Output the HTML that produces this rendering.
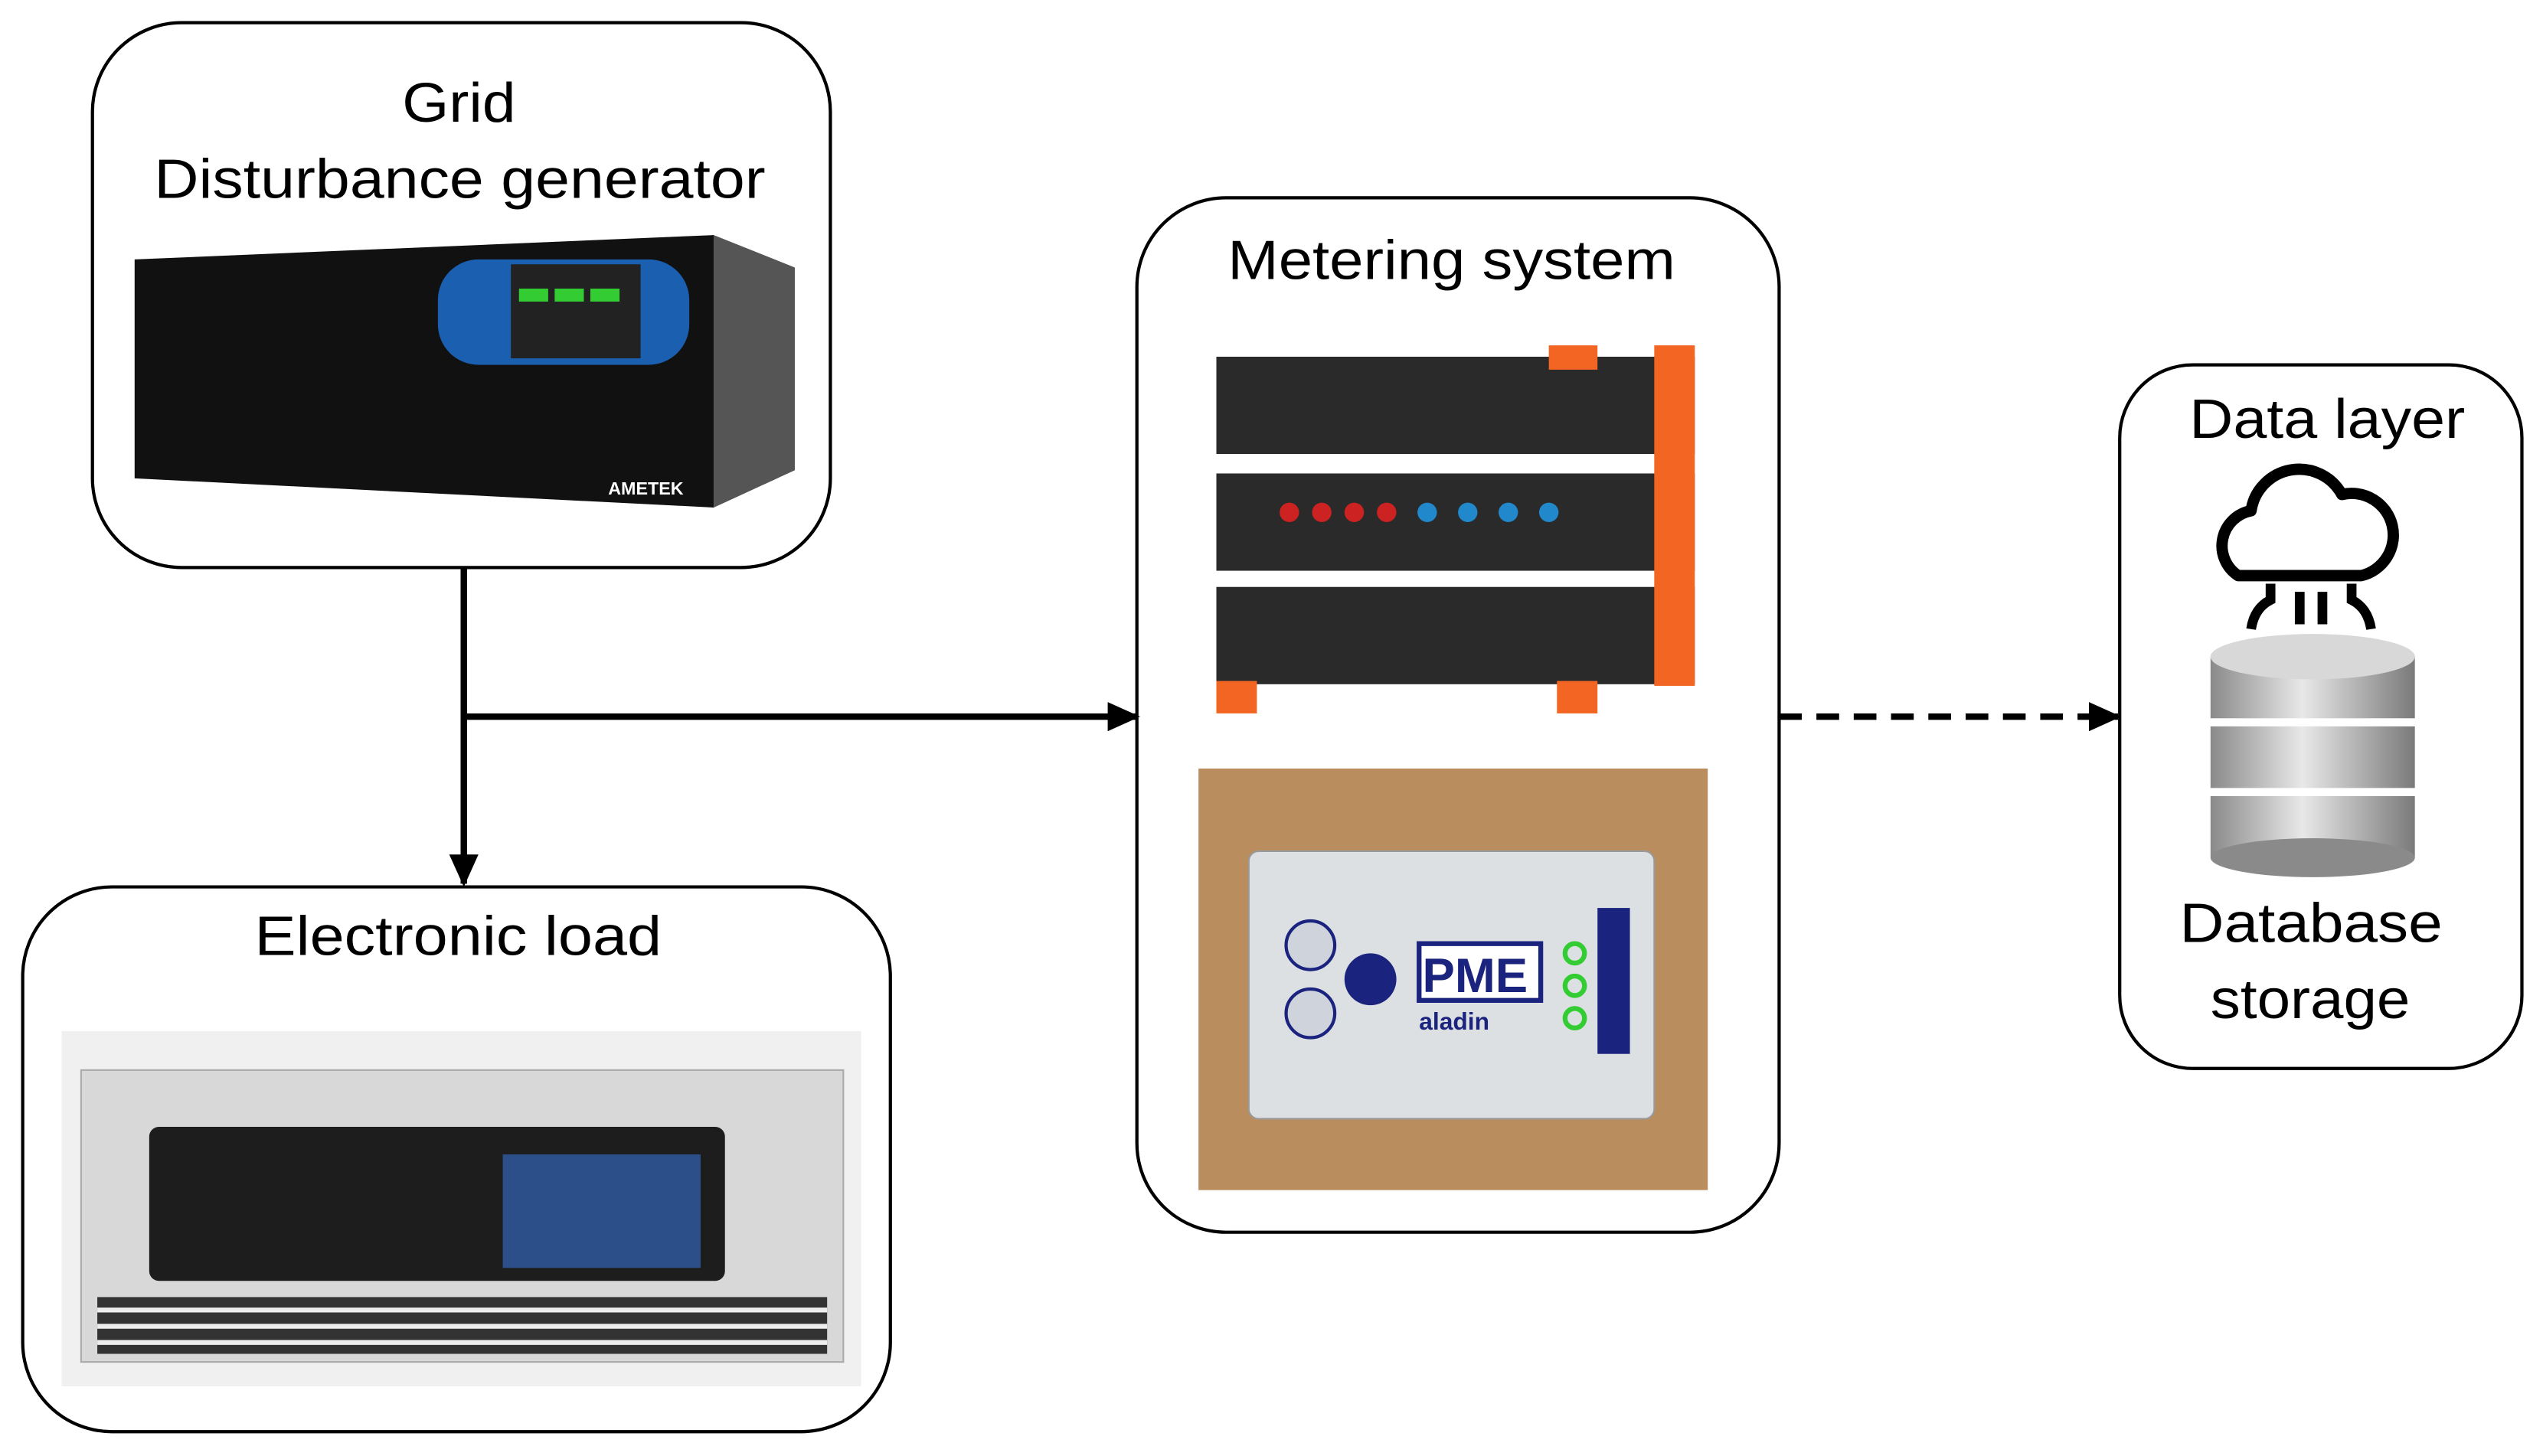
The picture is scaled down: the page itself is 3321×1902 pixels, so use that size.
<!DOCTYPE html>
<html><head><meta charset="utf-8"><style>
html,body{margin:0;padding:0;background:#fff;}
svg{display:block;}
text{font-family:"Liberation Sans",sans-serif;fill:#000;}
</style></head><body>
<svg width="3321" height="1902" viewBox="0 0 1568 898" xmlns="http://www.w3.org/2000/svg">
<defs>
<marker id="ah" markerWidth="20" markerHeight="18" refX="18" refY="9" orient="auto" markerUnits="userSpaceOnUse"><path d="M0,0 L20,9 L0,18 z" fill="#000"/></marker>
<linearGradient id="cyl" x1="0" x2="1"><stop offset="0" stop-color="#8a8a8a"/><stop offset="0.45" stop-color="#e8e8e8"/><stop offset="1" stop-color="#7a7a7a"/></linearGradient>
</defs>
<!-- boxes -->
<rect x="57" y="14" width="455" height="336" rx="55" fill="#fff" stroke="#000" stroke-width="2"/>
<rect x="14" y="547" width="535" height="336" rx="55" fill="#fff" stroke="#000" stroke-width="2"/>
<rect x="701" y="122" width="396" height="638" rx="55" fill="#fff" stroke="#000" stroke-width="2"/>
<rect x="1307" y="225" width="248" height="434" rx="45" fill="#fff" stroke="#000" stroke-width="2"/>
<!-- labels -->
<text x="248" y="75" font-size="34" textLength="70" lengthAdjust="spacingAndGlyphs">Grid</text>
<text x="95" y="122" font-size="34" textLength="377" lengthAdjust="spacingAndGlyphs">Disturbance generator</text>
<text x="157" y="589" font-size="34" textLength="251" lengthAdjust="spacingAndGlyphs">Electronic load</text>
<text x="757" y="172" font-size="34" textLength="276" lengthAdjust="spacingAndGlyphs">Metering system</text>
<text x="1350" y="270" font-size="34" textLength="170" lengthAdjust="spacingAndGlyphs">Data layer</text>
<text x="1344" y="581" font-size="34" textLength="162" lengthAdjust="spacingAndGlyphs">Database</text>
<text x="1363" y="628" font-size="34" textLength="123" lengthAdjust="spacingAndGlyphs">storage</text>
<!-- connectors -->
<line x1="286" y1="350" x2="286" y2="545" stroke="#000" stroke-width="4" marker-end="url(#ah)"/>
<line x1="286" y1="442" x2="701" y2="442" stroke="#000" stroke-width="4" marker-end="url(#ah)"/>
<line x1="1097" y1="442" x2="1306" y2="442" stroke="#000" stroke-width="4" stroke-dasharray="14,9" marker-end="url(#ah)"/>
<!-- grid generator device -->
<polygon points="83,160 440,145 490,165 490,290 440,313 83,295" fill="#111"/>
<polygon points="440,145 490,165 490,290 440,313" fill="#555"/>
<rect x="270" y="160" width="155" height="65" rx="25" fill="#1a5fb0"/>
<rect x="315" y="163" width="80" height="58" fill="#222"/>
<rect x="320" y="178" width="18" height="8" fill="#3c3"/><rect x="342" y="178" width="18" height="8" fill="#3c3"/><rect x="364" y="178" width="18" height="8" fill="#3c3"/>
<text x="375" y="305" font-size="11" style="fill:#fff" font-weight="bold">AMETEK</text>
<!-- electronic load device -->
<rect x="38" y="636" width="493" height="219" fill="#f0f0f0"/>
<rect x="50" y="660" width="470" height="180" fill="#d8d8d8" stroke="#aaa"/>
<rect x="92" y="695" width="355" height="95" rx="6" fill="#1d1d1d"/>
<rect x="310" y="712" width="122" height="70" fill="#2c4f8a"/>
<rect x="60" y="800" width="450" height="35" fill="#333"/>
<g stroke="#eee" stroke-width="3"><line x1="60" y1="808" x2="510" y2="808"/><line x1="60" y1="818" x2="510" y2="818"/><line x1="60" y1="828" x2="510" y2="828"/></g>
<!-- metering device 1 -->
<rect x="750" y="220" width="295" height="60" fill="#2a2a2a"/>
<rect x="750" y="292" width="295" height="60" fill="#2a2a2a"/>
<rect x="750" y="362" width="295" height="60" fill="#2a2a2a"/>
<g fill="#f26522"><rect x="955" y="213" width="30" height="15"/><rect x="1020" y="213" width="25" height="210"/><rect x="750" y="420" width="25" height="20"/><rect x="960" y="420" width="25" height="20"/></g>
<g fill="#c22"><circle cx="855" cy="316" r="6"/><circle cx="835" cy="316" r="6"/><circle cx="815" cy="316" r="6"/><circle cx="795" cy="316" r="6"/></g>
<g fill="#28c"><circle cx="880" cy="316" r="6"/><circle cx="905" cy="316" r="6"/><circle cx="930" cy="316" r="6"/><circle cx="955" cy="316" r="6"/></g>
<!-- metering device 2 -->
<rect x="739" y="474" width="314" height="260" fill="#b98d5e"/>
<rect x="770" y="525" width="250" height="165" rx="6" fill="#dde0e3" stroke="#999"/>
<rect x="985" y="560" width="20" height="90" fill="#1a237e"/>
<rect x="875" y="582" width="75" height="35" fill="#fff" stroke="#1a237e" stroke-width="3"/>
<text x="877" y="612" font-size="30" font-weight="bold" style="fill:#1a237e">PME</text>
<text x="875" y="635" font-size="15" font-weight="bold" style="fill:#1a237e">aladin</text>
<circle cx="845" cy="604" r="16" fill="#1a237e"/>
<circle cx="808" cy="583" r="15" fill="#cfd4dc" stroke="#1a237e" stroke-width="2"/>
<circle cx="808" cy="625" r="15" fill="#cfd4dc" stroke="#1a237e" stroke-width="2"/>
<g fill="none" stroke="#3c3" stroke-width="3"><circle cx="971" cy="588" r="6"/><circle cx="971" cy="608" r="6"/><circle cx="971" cy="628" r="6"/></g>
<!-- cloud + database -->
<path d="M1380,355 a22,22 0 0 1 8,-40 a30,30 0 0 1 56,-10 a22,22 0 0 1 12,50 z" fill="none" stroke="#000" stroke-width="7" stroke-linejoin="round"/>
<g stroke="#000" stroke-width="6" fill="none"><path d="M1400,360 v10 q-10,5 -12,18"/><path d="M1450,360 v10 q10,5 12,18"/><line x1="1418" y1="365" x2="1418" y2="385"/><line x1="1432" y1="365" x2="1432" y2="385"/></g>
<g fill="url(#cyl)"><rect x="1363" y="405" width="126" height="38"/><rect x="1363" y="448" width="126" height="38"/><rect x="1363" y="491" width="126" height="38"/></g>
<ellipse cx="1426" cy="405" rx="63" ry="14" fill="#d8d8d8"/>
<ellipse cx="1426" cy="529" rx="63" ry="12" fill="#8a8a8a"/>
</svg>
</body></html>
